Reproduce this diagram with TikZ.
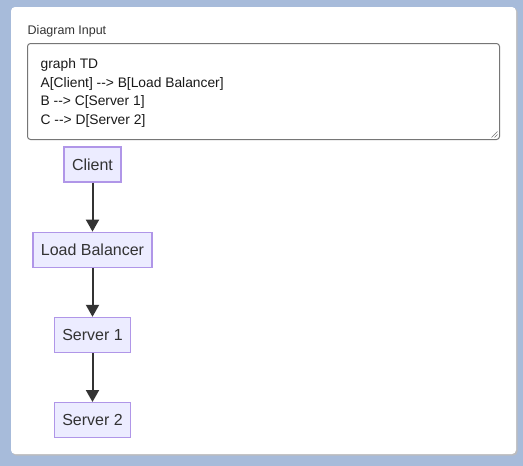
\documentclass[tikz,border=0pt]{standalone}
\usepackage{fontspec}
\setmainfont{Liberation Sans}
\usetikzlibrary{arrows.meta,positioning}
\definecolor{PageBlue}{RGB}{167,187,218}
\definecolor{CardShadow}{RGB}{188,188,190}
\definecolor{FieldGray}{RGB}{118,118,118}
\definecolor{NodeFill}{RGB}{236,236,255}
\definecolor{NodeEdge}{RGB}{176,150,232}
\definecolor{InkGray}{RGB}{51,51,51}

\begin{document}
\begin{tikzpicture}[
  x=1pt,y=-1pt,
  node distance=49pt,
  flow/.style={draw=NodeEdge,fill=NodeFill,line width=1.2pt,minimum height=35pt,
               inner xsep=8pt,text=InkGray,font=\fontsize{16}{19}\selectfont},
  link/.style={-{Triangle[length=12pt,width=13pt]},draw=InkGray,line width=2pt}
]
\useasboundingbox (0,0) rectangle (523,466);
\fill[PageBlue] (0,0) rectangle (523,466);
\fill[CardShadow,rounded corners=4pt] (12,8) rectangle (517.5,455.5);
\fill[white,rounded corners=4pt] (11,7) rectangle (516,454);
% input field
\node[anchor=west,inner sep=0pt,text=InkGray,font=\fontsize{12.5}{15}\selectfont] (caption) at (27.5,31.5) {Diagram Input};
\draw[FieldGray,line width=1pt,rounded corners=3pt,fill=white] (27.5,43.5) rectangle (499.5,139.5);
\node[anchor=north west,inner sep=0pt,align=left,text=black!90,font=\fontsize{13.8}{18.8}\selectfont] (source) at (40.5,58)
  {graph TD\\A[Client] -{}-> B[Load Balancer]\\B -{}-> C[Server 1]\\C -{}-> D[Server 2]};
\draw[FieldGray,line width=0.6pt] (491.5,137.5) -- (497.5,131.5) (494.5,137.5) -- (497.5,134.5);
% flowchart
\node[flow] (client) at (92.5,164.5) {Client};
\node[flow,below=of client] (balancer) {Load Balancer};
\node[flow,below=of balancer] (server1) {Server 1};
\node[flow,below=of server1] (server2) {Server 2};
\draw[link] (client)--(balancer); \draw[link] (balancer)--(server1); \draw[link] (server1)--(server2);
\end{tikzpicture}
\end{document}
